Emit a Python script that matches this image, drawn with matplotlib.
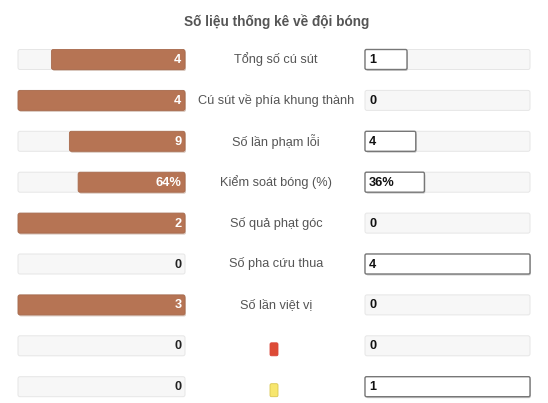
import matplotlib
matplotlib.use('Agg')
import matplotlib.pyplot as plt
from matplotlib.patches import FancyBboxPatch

# Data
title = 'Số liệu thống kê về đội bóng'
labels = ['Tổng số cú sút', 'Cú sút về phía khung thành', 'Số lần phạm lỗi',
          'Kiểm soát bóng (%)', 'Số quả phạt góc', 'Số pha cứu thua',
          'Số lần việt vị', '', '']
home = [4, 4, 9, 64, 2, 0, 3, 0, 0]
away = [1, 0, 4, 36, 0, 4, 0, 0, 1]
pct_row = [False, False, False, True, False, False, False, False, False]
card_colors = [None] * 7 + ['#dd4b36', '#f7e66e']
card_edges = [None] * 7 + ['#d9453a', '#d9c650']

# Layout (pixels)
W, H = 548, 403
L0, L1 = 18, 185      # left track
R0, R1 = 365, 530     # right track
Y0, DY = 59.5, 40.9
BAR_H = 20
MIN_BOX = 42

plt.rcParams['font.family'] = ['Liberation Sans', 'DejaVu Sans']

fig = plt.figure(figsize=(W / 100, H / 100), dpi=100)
ax = fig.add_axes([0, 0, 1, 1])
ax.set_xlim(0, W)
ax.set_ylim(H, 0)
ax.axis('off')

ax.text(277, 22, title, ha='center', va='center', fontsize=9.8,
        fontweight='bold', color='#555555')


def rbox(x, y, w, h, fc, ec, lw=0.8, r=2, z=1):
    p = FancyBboxPatch((x, y), w, h, boxstyle=f'round,pad=0,rounding_size={r}',
                       fc=fc, ec=ec, lw=lw, zorder=z)
    ax.add_patch(p)


for i, (lab, h, a) in enumerate(zip(labels, home, away)):
    yc = Y0 + i * DY
    top = yc - BAR_H / 2
    tot = h + a
    # tracks
    rbox(L0, top, L1 - L0, BAR_H, '#f7f7f7', '#e6e6e6', lw=0.7)
    rbox(R0, top, R1 - R0, BAR_H, '#f7f7f7', '#e6e6e6', lw=0.7)

    hs = h / tot if tot else 0
    as_ = a / tot if tot else 0
    txt_h = f'{h}%' if pct_row[i] else str(h)
    txt_a = f'{a}%' if pct_row[i] else str(a)

    if h > 0:
        w = hs * (L1 - L0)
        rbox(L1 - w + 1, top + 1.5, w, BAR_H, '#d9c7bd', 'none', lw=0, z=2)
        rbox(L1 - w, top, w, BAR_H, '#b67454', '#a86a4c', lw=0.6, z=3)
        ax.text(L1 - 3.5, yc + 0.5, txt_h, ha='right', va='center', fontsize=9.2,
                fontweight='bold', color='white', zorder=4)
    else:
        ax.text(L1 - 3.5, yc + 0.5, txt_h, ha='right', va='center', fontsize=9.2,
                fontweight='bold', color='#222222', zorder=4)

    if a > 0:
        w = max(as_ * (R1 - R0), MIN_BOX)
        rbox(R0 + 1, top + 1.5, w, BAR_H, '#cfcfcf', 'none', lw=0, z=2)
        rbox(R0, top, w, BAR_H, 'white', '#777777', lw=1.0, r=1.5, z=3)
    ax.text(R0 + 4, yc + 0.5, txt_a, ha='left', va='center', fontsize=9.2,
            fontweight='bold', color='#111111', zorder=4)

    if lab:
        ax.text(276, yc, lab, ha='center', va='center', fontsize=9.2,
                color='#555555')
    elif card_colors[i]:
        rbox(270, yc - 3, 8, 13, card_colors[i], card_edges[i], lw=0.6, r=1.5)

fig.savefig('out.png', dpi=100)
